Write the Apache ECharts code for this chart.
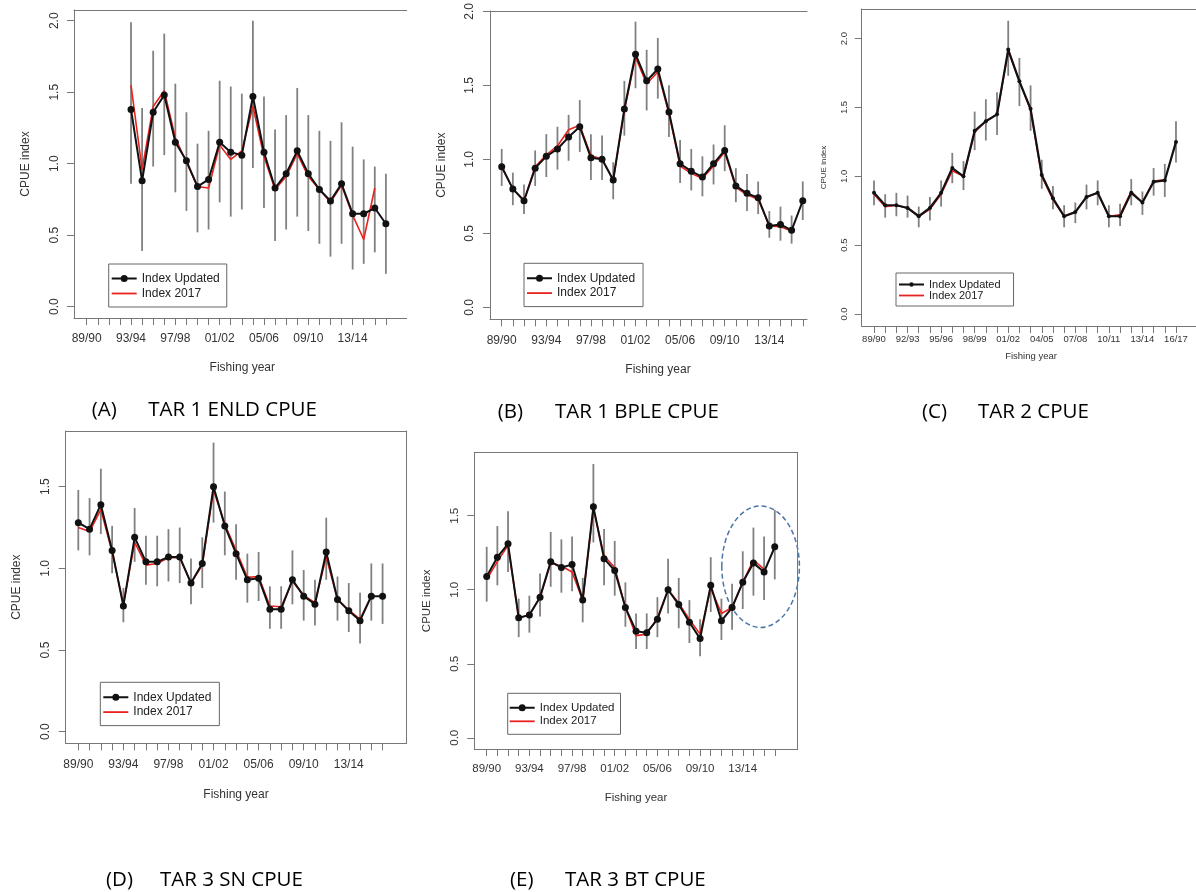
<!DOCTYPE html>
<html>
<head>
<meta charset="utf-8">
<script src="https://cdn.jsdelivr.net/npm/echarts@6/dist/echarts.min.js"></script>
<style>
html,body{margin:0;padding:0;background:#fff;}
#chart{width:1196px;height:892px;}
</style>
</head>
<body>
<div id="chart"></div>
<script>
// ---------- tick labels / categories ----------
const years = ['89/90','90/91','91/92','92/93','93/94','94/95','95/96','96/97','97/98','98/99',
  '99/00','00/01','01/02','02/03','03/04','04/05','05/06','06/07','07/08','08/09',
  '09/10','10/11','11/12','12/13','13/14','14/15','15/16','16/17'];
const yTicksA = [0, 0.5, 1.0, 1.5, 2.0];
const yTicksD = [0, 0.5, 1.0, 1.5];

// ---------- (A) TAR 1 ENLD CPUE ----------
const updA = [null,null,null,null,1.38,0.88,1.36,1.48,1.15,1.02,0.84,0.89,1.15,1.08,1.06,1.47,1.08,0.83,0.93,1.09,0.93,0.82,0.74,0.86,0.65,0.65,0.69,0.58];
const loA  = [null,null,null,null,0.86,0.39,0.98,1.06,0.80,0.67,0.52,0.54,0.73,0.63,0.68,0.97,0.69,0.46,0.54,0.63,0.53,0.44,0.35,0.44,0.26,0.30,0.38,0.23];
const hiA  = [null,null,null,null,1.99,1.39,1.79,1.91,1.56,1.36,1.14,1.23,1.58,1.54,1.49,2.00,1.47,1.24,1.34,1.53,1.34,1.23,1.16,1.29,1.12,1.03,0.98,0.93];
const oldA = [null,null,null,null,1.55,0.96,1.40,1.51,1.18,1.01,0.84,0.83,1.13,1.03,1.09,1.40,1.05,0.82,0.91,1.07,0.91,0.82,0.73,0.85,0.64,0.47,0.83];

// ---------- (B) TAR 1 BPLE CPUE ----------
const updB = [0.95,0.80,0.72,0.94,1.02,1.07,1.15,1.22,1.01,1.00,0.86,1.34,1.71,1.53,1.61,1.32,0.97,0.92,0.88,0.97,1.06,0.82,0.77,0.74,0.55,0.56,0.52,0.72];
const loB  = [0.82,0.69,0.63,0.82,0.88,0.93,0.99,1.05,0.86,0.86,0.73,1.16,1.48,1.33,1.41,1.15,0.84,0.79,0.75,0.83,0.92,0.71,0.65,0.63,0.47,0.45,0.43,0.59];
const hiB  = [1.07,0.91,0.83,1.06,1.17,1.22,1.30,1.40,1.17,1.16,0.98,1.53,1.93,1.74,1.82,1.50,1.13,1.07,1.02,1.10,1.23,0.94,0.90,0.85,0.65,0.68,0.62,0.85];
const oldB = [0.95,0.80,0.72,0.95,1.03,1.09,1.20,1.23,1.025,1.00,0.86,1.33,1.69,1.51,1.59,1.31,0.955,0.905,0.87,0.955,1.05,0.81,0.76,0.73,0.55,0.545,0.515];

// ---------- (C) TAR 2 CPUE ----------
const updC = [0.88,0.79,0.79,0.77,0.71,0.77,0.88,1.06,1.00,1.33,1.40,1.45,1.92,1.69,1.49,1.01,0.84,0.71,0.74,0.85,0.88,0.71,0.71,0.88,0.81,0.96,0.97,1.25];
const loC  = [0.79,0.70,0.71,0.70,0.63,0.68,0.78,0.95,0.90,1.19,1.26,1.30,1.73,1.51,1.33,0.91,0.76,0.63,0.66,0.76,0.79,0.63,0.64,0.79,0.72,0.86,0.85,1.10];
const hiC  = [0.97,0.87,0.88,0.86,0.78,0.85,0.97,1.17,1.11,1.47,1.56,1.61,2.13,1.86,1.66,1.12,0.93,0.79,0.81,0.94,0.97,0.79,0.80,0.98,0.89,1.06,1.09,1.40];
const oldC = [0.87,0.78,0.79,0.77,0.71,0.76,0.87,1.04,1.00,1.32,1.40,1.45,1.91,1.69,1.48,1.00,0.83,0.71,0.74,0.85,0.88,0.71,0.72,0.89,0.81,0.965,0.975];

// ---------- (D) TAR 3 SN CPUE ----------
const updD = [1.28,1.24,1.39,1.11,0.77,1.19,1.04,1.04,1.07,1.07,0.91,1.03,1.50,1.26,1.09,0.93,0.94,0.75,0.75,0.93,0.83,0.78,1.10,0.81,0.74,0.68,0.83,0.83];
const loD  = [1.11,1.08,1.21,0.97,0.67,1.04,0.90,0.89,0.92,0.91,0.78,0.88,1.28,1.08,0.93,0.79,0.80,0.63,0.63,0.78,0.68,0.65,0.93,0.68,0.61,0.54,0.68,0.66];
const hiD  = [1.48,1.43,1.61,1.26,0.88,1.37,1.20,1.20,1.24,1.25,1.06,1.19,1.77,1.47,1.27,1.09,1.10,0.89,0.89,1.11,0.99,0.93,1.31,0.95,0.91,0.85,1.03,1.03];
const oldD = [1.25,1.225,1.36,1.10,0.78,1.16,1.02,1.03,1.065,1.065,0.91,1.02,1.48,1.27,1.11,0.945,0.95,0.77,0.765,0.92,0.835,0.79,1.07,0.81,0.745,0.69,0.83];

// ---------- (E) TAR 3 BT CPUE ----------
const updE = [1.09,1.22,1.31,0.81,0.83,0.95,1.19,1.15,1.17,0.93,1.56,1.21,1.13,0.88,0.72,0.71,0.80,1.00,0.90,0.78,0.67,1.03,0.79,0.88,1.05,1.18,1.12,1.29];
const loE  = [0.92,1.03,1.12,0.68,0.71,0.82,1.02,0.98,0.99,0.78,1.32,1.03,0.96,0.75,0.60,0.60,0.68,0.84,0.74,0.64,0.55,0.85,0.66,0.73,0.87,0.96,0.93,1.07];
const hiE  = [1.29,1.43,1.53,0.94,0.96,1.11,1.39,1.34,1.36,1.08,1.85,1.41,1.33,1.05,0.84,0.84,0.95,1.21,1.08,0.93,0.80,1.22,0.94,1.04,1.26,1.42,1.36,1.54];
const oldE = [1.07,1.19,1.30,0.81,0.83,0.95,1.18,1.16,1.12,0.93,1.55,1.23,1.15,0.88,0.69,0.70,0.81,1.00,0.91,0.80,0.70,1.01,0.84,0.88,1.05,1.20,1.14];

const seriesNames = ['Index Updated', 'Index 2017'];
const captions = [
  ['(A)', 'TAR 1 ENLD CPUE'], ['(B)', 'TAR 1 BPLE CPUE'], ['(C)', 'TAR 2 CPUE'],
  ['(D)', 'TAR 3 SN CPUE'], ['(E)', 'TAR 3 BT CPUE']
];

// ---------- layout (positions / styles only) ----------
const FONT = 'Liberation Sans, Arial, sans-serif';
const panels = [
  {grid:{left:74, top:10, width:332.7, height:308}, x:[-1.146,28.88], y:[-0.079,2.075], yt:yTicksA, step:4,
   upd:updA, lo:loA, hi:hiA, old:oldA, fs:12, sym:7, lw:2, xm:15, ym:13, yng:42, box:false,
   xt:[242.3,368], cap:[[91.7,410.5],[148.3,410.5]],
   lg:{left:108.7, top:264, padding:[8.5,7,7.5,3], ih:14, gap:3, fs:12, r:3.5}},
  {grid:{left:490, top:11, width:317, height:308.3}, x:[-1.05,27.38], y:[-0.081,2.002], yt:yTicksA, step:4,
   upd:updB, lo:loB, hi:hiB, old:oldB, fs:12, sym:7, lw:2, xm:15, ym:14, yng:42, box:false,
   xt:[658,370], cap:[[497.7,412.5],[555,412.5]],
   lg:{left:524, top:263.3, padding:[9,8,7.5,3], ih:14, gap:2.8, fs:12, r:3.5}},
  {grid:{left:861.7, top:9, width:334.3, height:317}, x:[-1.10,28.79], y:[-0.087,2.215], yt:yTicksA, step:3,
   upd:updC, lo:loC, hi:hiC, old:oldC, fs:9.5, sym:4, lw:2.2, xm:8, ym:12, yng:34, box:false, yfs:8,
   xt:[1031,356.7], cap:[[922,412],[978,412]],
   lg:{left:896, top:273, padding:[6,13,5,3], ih:10, gap:0, fs:11, r:2.2}},
  {grid:{left:65.7, top:431, width:341, height:312.3}, x:[-1.118,29.14], y:[-0.071,1.841], yt:yTicksD, step:4,
   upd:updD, lo:loD, hi:hiD, old:oldD, fs:12, sym:7, lw:2, xm:15, ym:14, yng:43, box:true,
   xt:[236,795], cap:[[106,880],[160,880]],
   lg:{left:100.3, top:682.3, padding:[9,8,7.5,3], ih:14, gap:2.8, fs:12, r:3.5}},
  {grid:{left:474.3, top:452.7, width:323.4, height:296.3}, x:[-1.162,29.15], y:[-0.076,1.926], yt:yTicksD, step:4,
   upd:updE, lo:loE, hi:hiE, old:oldE, fs:11.5, sym:7, lw:2, xm:14, ym:13, yng:41, box:true,
   xt:[636,797.7], cap:[[510,880],[565,880]],
   lg:{left:507.7, top:693.3, padding:[8.5,6,7,2], ih:13, gap:1.5, fs:11.5, r:3.5}}
];

// legend icons: line with a filled dot (updated) and a plain line (2017); all sub-paths clockwise
function dotLineIcon(r) {
  const c = 12.5, h = 1;
  return 'path://M0,' + (7 - h) + ' L25,' + (7 - h) + ' L25,' + (7 + h) + ' L0,' + (7 + h) + ' Z ' +
    'M' + (c - r) + ',7 A' + r + ',' + r + ' 0 1,1 ' + (c + r) + ',7 A' + r + ',' + r + ' 0 1,1 ' + (c - r) + ',7 Z';
}
const lineIcon = 'path://M0,0 L25,0 L25,1.8 L0,1.8 Z';

const AX = '#777', TXT = '#333';
const grid = [], xAxis = [], yAxis = [], series = [], legend = [], graphic = [];

panels.forEach((p, gi) => {
  grid.push(Object.assign({show:false, containLabel:false, outerBoundsMode:'none'}, p.grid));
  const idx = [...Array(years.length).keys()];
  const xMain = xAxis.length;
  xAxis.push({
    type:'value', gridIndex:gi, min:p.x[0], max:p.x[1], position:'bottom',
    splitLine:{show:false},
    axisLine:{show:true, onZero:false, lineStyle:{color:AX, width:1}},
    axisTick:{show:true, inside:false, length:7, lineStyle:{color:AX, width:1}, customValues:idx},
    axisLabel:{show:true, margin:p.xm, color:TXT, fontSize:p.fs, fontFamily:FONT,
      customValues:idx.filter(i => i % p.step === 0), formatter:v => years[Math.round(v)] || ''}
  });
  xAxis.push({
    type:'value', gridIndex:gi, min:p.x[0], max:p.x[1], position:'top',
    splitLine:{show:false}, axisTick:{show:false}, axisLabel:{show:false},
    axisLine:{show:true, onZero:false, lineStyle:{color:AX, width:1}}
  });
  const yMain = yAxis.length;
  yAxis.push({
    type:'value', gridIndex:gi, min:p.y[0], max:p.y[1], position:'left',
    name:'CPUE index', nameLocation:'middle', nameGap:p.yng, nameRotate:90, nameMoveOverlap:false,
    nameTextStyle:{color:TXT, fontSize:p.yfs || p.fs, fontFamily:FONT},
    splitLine:{show:false},
    axisLine:{show:true, onZero:false, lineStyle:{color:AX, width:1}},
    axisTick:{show:true, inside:false, length:7, lineStyle:{color:AX, width:1}, customValues:p.yt},
    axisLabel:{show:true, rotate:90, margin:p.ym, color:TXT, fontSize:p.fs, fontFamily:FONT,
      customValues:p.yt, formatter:v => v.toFixed(1)}
  });
  if (p.box) {
    yAxis.push({
      type:'value', gridIndex:gi, min:p.y[0], max:p.y[1], position:'right',
      splitLine:{show:false}, axisTick:{show:false}, axisLabel:{show:false},
      axisLine:{show:true, onZero:false, lineStyle:{color:AX, width:1}}
    });
  }
  // error bars
  series.push({
    type:'custom', name:'CI', xAxisIndex:xMain, yAxisIndex:yMain, silent:true, z:1,
    encode:{x:0, y:[1,2]},
    data: idx.filter(i => p.lo[i] != null).map(i => [i, p.lo[i], p.hi[i]]),
    renderItem:(params, api) => {
      const a = api.coord([api.value(0), api.value(1)]);
      const b = api.coord([api.value(0), api.value(2)]);
      return {type:'line', shape:{x1:a[0], y1:a[1], x2:b[0], y2:b[1]},
        style:{stroke:'#808080', lineWidth:1.8}};
    }
  });
  // Index 2017
  series.push({
    type:'line', name:seriesNames[1], xAxisIndex:xMain, yAxisIndex:yMain, z:2,
    data: p.old.map((v, i) => [i, v]).filter(d => d[1] != null),
    showSymbol:false, symbol:'none', color:'#e8231f',
    lineStyle:{color:'#e8231f', width:1.6}, animation:false
  });
  // Index Updated
  series.push({
    type:'line', name:seriesNames[0], xAxisIndex:xMain, yAxisIndex:yMain, z:3,
    data: p.upd.map((v, i) => [i, v]).filter(d => d[1] != null),
    symbol:'circle', symbolSize:p.sym, showSymbol:true, color:'#111',
    itemStyle:{color:'#111'}, lineStyle:{color:'#111', width:p.lw}, animation:false
  });
  legend.push({
    data:[{name:seriesNames[0], icon:dotLineIcon(p.lg.r), itemStyle:{color:'#111', borderWidth:0}},
          {name:seriesNames[1], icon:lineIcon, itemStyle:{color:'#e8231f', borderWidth:0}}],
    orient:'vertical', left:p.lg.left, top:p.lg.top, padding:p.lg.padding,
    itemWidth:25, itemHeight:p.lg.ih, itemGap:p.lg.gap, selectedMode:false,
    borderColor:'#666', borderWidth:1, borderRadius:0, backgroundColor:'#fff',
    textStyle:{color:'#222', fontSize:p.lg.fs, fontFamily:FONT}
  });
  graphic.push({type:'text', x:p.xt[0], y:p.xt[1], silent:true,
    style:{text:'Fishing year', align:'center', verticalAlign:'middle', textAlign:'center', textVerticalAlign:'middle',
      fontSize:p.fs, fontFamily:FONT, fill:TXT}});
  captions[gi].forEach((t, k) => {
    graphic.push({type:'text', x:p.cap[k][0], y:p.cap[k][1], silent:true,
      style:{text:t, align:'left', verticalAlign:'middle', textAlign:'left', textVerticalAlign:'middle',
        fontSize:20.5, fontFamily:'Open Sans, Lato, sans-serif', fill:'#000'}});
  });
});

// dashed ellipse annotation in panel (E)
graphic.push({type:'ellipse', silent:true, shape:{cx:760.6, cy:566.7, rx:38.8, ry:60.7},
  style:{fill:'transparent', stroke:'#4a76a8', lineWidth:1.5, lineDash:[5,3]}});

const chart = echarts.init(document.getElementById('chart'), null, {renderer:'canvas'});
chart.setOption({animation:false, backgroundColor:'#fff', grid, xAxis, yAxis, series, legend, graphic});
</script>
</body>
</html>
